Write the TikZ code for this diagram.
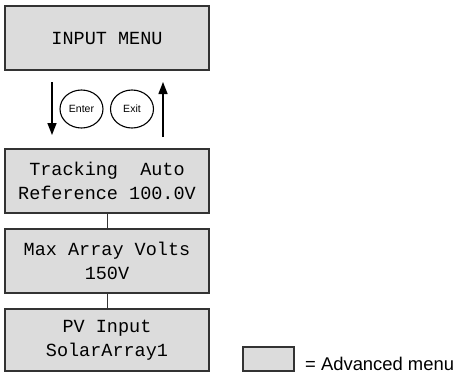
\documentclass[tikz,border=0pt]{standalone}
\usepackage{fontspec}
\setmainfont{Liberation Sans}
\newfontfamily\lcdfont{Liberation Mono}
\usetikzlibrary{arrows.meta}
\usetikzlibrary{shapes.geometric}
\definecolor{menugray}{RGB}{220,220,220}
\definecolor{edgegray}{RGB}{51,51,51}

\begin{document}
\begin{tikzpicture}[x=1pt, y=-1pt,
  menubox/.style={draw=edgegray, fill=menugray, line width=1.6pt,
    minimum width=204pt, minimum height=64pt, inner sep=0pt, align=center,
    font=\lcdfont\fontsize{18.5}{24}\selectfont},
  keybtn/.style={draw, ellipse, line width=1.1pt, minimum width=43pt,
    minimum height=38pt, inner sep=0pt, font=\fontsize{10.5}{12}\selectfont},
  flow/.style={line width=1.4pt, -{Triangle[length=12pt,width=9pt]}},
  link/.style={draw=edgegray, line width=0.9pt}]
\useasboundingbox (0,0) rectangle (455,373);
% menu boxes
\node[menubox] (input) at (107,38) {INPUT MENU};
\node[menubox] (track) at (107,181) {Tracking\ \ Auto\\Reference 100.0V};
\node[menubox] (maxv) at (107,261) {Max Array Volts\\150V};
\node[menubox, minimum height=62pt] (pvin) at (107,340) {PV Input\\SolarArray1};
\draw[link] (track) -- (maxv);
\draw[link] (maxv) -- (pvin);
% keys
\node[keybtn] (enter) at (81.5,109) {Enter};
\node[keybtn] (exit) at (132,109) {Exit};
\coordinate (downtop) at (52,82);
\coordinate (downend) at (52,135);
\coordinate (upbot) at (163,137);
\coordinate (uptop) at (163,82);
\draw[flow] (downtop) -- (downend);
\draw[flow] (upbot) -- (uptop);
% legend
\node[menubox, minimum width=51pt, minimum height=24pt] (legend) at (268.5,359) {};
\node[anchor=base west, inner sep=0pt, font=\fontsize{18.4}{22}\selectfont] (legtext) at (305,370) {= Advanced menu};
\end{tikzpicture}
\end{document}
